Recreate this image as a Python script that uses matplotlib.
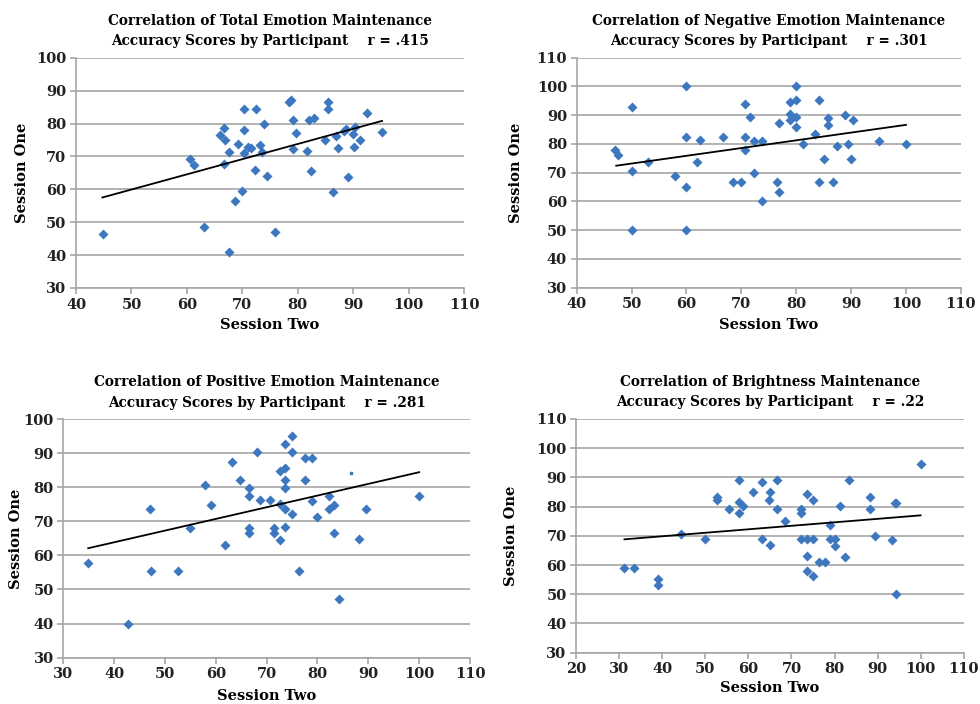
import numpy as np
import matplotlib.pyplot as plt

# Total emotion maintenance
total_s2 = [44.8, 60.6, 61.2, 63.0, 65.9, 66.7, 66.8, 66.6, 67.6, 67.6, 68.6, 69.3, 70.0,
            70.3, 70.3, 70.3, 71.0, 71.5, 72.4, 72.3, 73.1, 73.6, 73.9, 74.4, 75.8, 78.4,
            78.7, 79.1, 79.1, 79.6, 81.6, 82.1, 82.4, 83.0, 84.9, 85.4, 85.4, 86.3, 86.9,
            87.2, 88.4, 88.7, 89.0, 89.9, 90.1, 90.3, 91.3, 92.4, 95.2]
total_s1 = [46.3, 69.3, 67.3, 48.5, 76.4, 78.7, 75.0, 67.6, 71.4, 40.9, 56.4, 73.7, 59.4,
            84.3, 77.9, 70.9, 73.0, 72.6, 84.3, 65.9, 73.4, 71.4, 80.0, 64.1, 47.1, 86.6,
            87.1, 81.1, 72.2, 77.1, 71.7, 81.0, 65.6, 81.6, 75.0, 86.6, 84.5, 59.2, 76.3,
            72.6, 77.8, 78.4, 63.8, 76.8, 73.0, 78.9, 75.0, 83.3, 77.4]
total_fit_x = [44.75, 95.2]
total_fit_y = [57.5, 80.8]

# Negative emotion maintenance
neg_s2 = [47.0, 47.5, 50.1, 50.1, 50.1, 53.0, 57.9, 60.0, 60.0, 60.0, 60.0, 62.0, 62.5,
          66.7, 68.4, 70.0, 70.6, 70.6, 70.6, 71.5, 72.3, 72.3, 73.7, 73.7, 76.5, 76.9,
          76.9, 78.9, 78.9, 78.9, 80.0, 80.0, 80.0, 80.0, 81.3, 83.4, 84.2, 84.2, 85.0,
          85.7, 85.7, 86.7, 87.4, 88.8, 89.5, 90.0, 90.4, 95.0, 100.0]
neg_s1 = [77.8, 76.1, 92.9, 70.5, 49.9, 73.7, 68.8, 100.2, 82.3, 65.0, 49.9, 73.7, 81.2,
          82.3, 66.6, 66.6, 93.8, 82.3, 77.8, 89.5, 81.0, 70.0, 81.0, 60.0, 66.6, 87.4,
          63.1, 94.5, 90.3, 88.4, 100.2, 95.1, 89.5, 85.7, 79.9, 83.4, 95.1, 66.6, 74.9,
          89.1, 86.6, 66.6, 79.1, 90.0, 79.9, 74.9, 88.4, 81.0, 79.9]
neg_fit_x = [47.2, 100.0]
neg_fit_y = [72.4, 86.6]

# Positive emotion maintenance
pos_s2 = [34.9, 42.8, 47.0, 47.3, 52.6, 54.9, 57.8, 59.0, 61.8, 63.1, 64.7, 66.6, 66.6,
          66.6, 66.6, 68.1, 68.7, 70.6, 71.4, 71.4, 72.7, 72.7, 72.7, 73.6, 73.6, 73.6,
          73.6, 73.6, 73.6, 75.0, 75.0, 75.0, 76.4, 77.6, 77.6, 78.9, 78.9, 79.9, 82.3,
          82.3, 83.3, 83.3, 84.2, 88.2, 89.5, 99.9]
pos_s1 = [57.8, 40.0, 73.5, 55.4, 55.4, 68.0, 80.7, 74.8, 63.1, 87.3, 82.2, 79.9, 77.5,
          68.0, 66.5, 90.2, 76.2, 76.2, 68.0, 66.5, 84.8, 75.0, 64.5, 92.7, 85.5, 82.2,
          79.9, 73.5, 68.2, 95.1, 90.2, 72.0, 55.4, 88.7, 82.2, 88.7, 76.0, 71.3, 77.5,
          73.5, 74.8, 66.5, 47.2, 64.8, 73.5, 77.5]
pos_stray = (86.6, 84.2)
pos_fit_x = [34.9, 100.0]
pos_fit_y = [62.1, 84.4]

# Brightness maintenance
bright_s2 = [31.2, 33.4, 39.0, 39.0, 44.4, 50.0, 52.7, 52.7, 55.6, 57.9, 57.9, 57.9, 58.8,
             61.1, 63.1, 63.1, 65.0, 64.7, 65.1, 66.7, 66.7, 68.4, 72.3, 72.3, 72.3, 73.7,
             73.7, 73.7, 73.7, 75.0, 75.0, 75.0, 76.5, 77.9, 78.9, 78.9, 80.0, 80.0, 81.3,
             82.4, 83.4, 88.2, 88.2, 89.5, 93.4, 94.1, 94.4, 94.4, 100.0]
bright_s1 = [58.9, 58.9, 55.1, 53.0, 70.6, 68.8, 83.3, 82.4, 79.1, 89.0, 81.5, 77.9, 80.2,
             85.0, 88.3, 68.8, 85.1, 82.4, 66.7, 89.0, 79.1, 75.1, 79.1, 77.8, 68.8, 84.2,
             68.8, 63.2, 57.9, 82.4, 68.8, 56.2, 61.0, 61.0, 73.8, 68.8, 68.8, 66.5, 80.1,
             62.6, 89.0, 83.3, 79.1, 70.0, 68.4, 81.3, 81.3, 50.1, 94.5]
bright_fit_x = [31.2, 100.0]
bright_fit_y = [68.8, 77.0]

BLUE = "#3d77bf"
GRID = "#a6a6a6"
FONT = "DejaVu Serif"


def draw(ax, x, y, fx, fy, xlim, ylim, title, ylabel_x, xlabel_y):
    ax.scatter(x, y, marker="D", s=26, color=BLUE, zorder=3, linewidths=0)
    ax.plot(fx, fy, color="black", lw=1.3, zorder=4)
    ax.set_xlim(*xlim)
    ax.set_ylim(*ylim)
    ax.set_xticks(np.arange(xlim[0], xlim[1] + 1, 10))
    ax.set_yticks(np.arange(ylim[0], ylim[1] + 1, 10))
    ax.grid(axis="y", color=GRID, lw=1.2)
    ax.set_axisbelow(True)
    for s in ["top", "right"]:
        ax.spines[s].set_visible(False)
    for s in ["left", "bottom"]:
        ax.spines[s].set_color(GRID)
        ax.spines[s].set_linewidth(1.2)
    ax.tick_params(colors=GRID, labelcolor="#222222", length=4, width=1.2,
                   labelsize=10.5, pad=3)
    for lab in ax.get_xticklabels() + ax.get_yticklabels():
        lab.set_fontfamily(FONT)
        lab.set_fontweight("bold")
    ax.set_title(title, fontsize=9.8, fontweight="bold", family=FONT, pad=9,
                 linespacing=1.55)
    ax.set_ylabel("Session One", fontsize=10.5, fontweight="bold", family=FONT)
    ax.set_xlabel("Session Two", fontsize=10.5, fontweight="bold", family=FONT)
    ax.yaxis.set_label_coords(ylabel_x, 0.5)
    ax.xaxis.set_label_coords(0.5, xlabel_y)


fig = plt.figure(figsize=(9.8, 7.04), dpi=100)

ax1 = fig.add_axes([0.0776, 0.591, 0.396, 0.327])
draw(ax1, total_s2, total_s1, total_fit_x, total_fit_y, (40, 110), (30, 100),
     "Correlation of Total Emotion Maintenance\nAccuracy Scores by Participant    r = .415",
     -0.12, -0.13)

ax2 = fig.add_axes([0.5885, 0.5913, 0.392, 0.327])
draw(ax2, neg_s2, neg_s1, neg_fit_x, neg_fit_y, (40, 110), (30, 110),
     "Correlation of Negative Emotion Maintenance\nAccuracy Scores by Participant    r = .301",
     -0.14, -0.13)

ax3 = fig.add_axes([0.0646, 0.0658, 0.415, 0.339])
draw(ax3, pos_s2, pos_s1, pos_fit_x, pos_fit_y, (30, 110), (30, 100),
     "Correlation of Positive Emotion Maintenance\nAccuracy Scores by Participant    r = .281",
     -0.1, -0.13)
ax3.scatter([pos_stray[0]], [pos_stray[1]], marker="s", s=2, color=BLUE, zorder=3)

ax4 = fig.add_axes([0.588, 0.0729, 0.3953, 0.332])
draw(ax4, bright_s2, bright_s1, bright_fit_x, bright_fit_y, (20, 110), (30, 110),
     "Correlation of Brightness Maintenance\nAccuracy Scores by Participant    r = .22",
     -0.15, -0.12)

plt.savefig("out.png", dpi=100)
